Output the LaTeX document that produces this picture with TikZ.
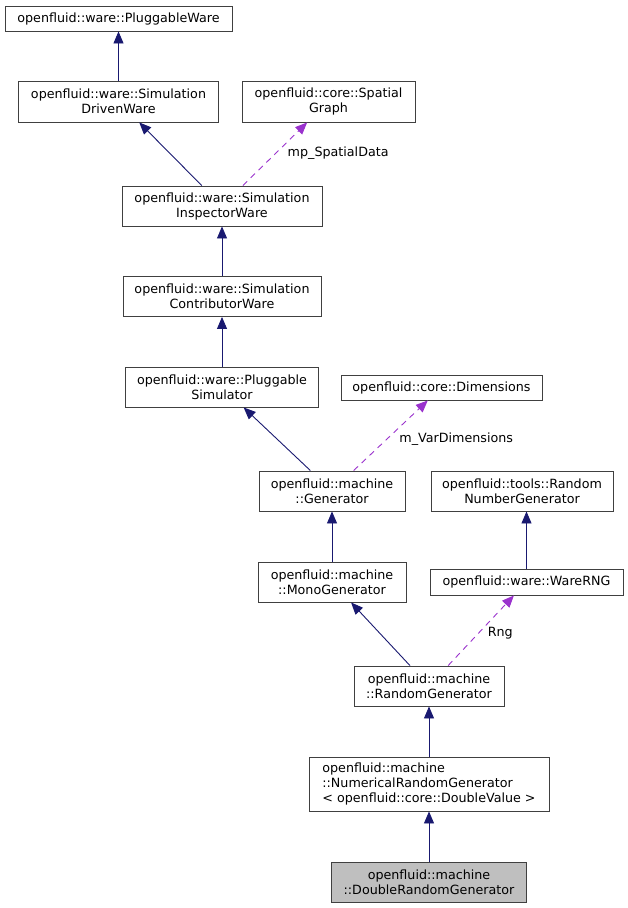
\documentclass[tikz,border=0pt]{standalone}
\usepackage{fontspec}
\setmainfont{DejaVu Sans}
\usetikzlibrary{positioning}
\usetikzlibrary{arrows.meta}
\definecolor{edgenavy}{HTML}{191970}
\definecolor{edgeorchid}{HTML}{9A32CD}
\definecolor{boxline}{HTML}{404040}
\definecolor{boxgray}{HTML}{BFBFBF}
\tikzset{
    classnode/.style = {rectangle, draw=boxline, line width=0.9pt, fill=white, inner sep=0pt, align=center, font=\fontsize{12.7}{15}\selectfont},
    classnodeg/.style = {classnode, fill=boxgray},
    edgei/.style = {-{Triangle[length=12pt,width=10pt]}, line width=0.9pt, draw=edgenavy, fill=edgenavy},
    edgeu/.style = {-{Triangle[length=12pt,width=10pt]}, line width=0.9pt, draw=edgeorchid, fill=edgeorchid, dash pattern=on 6pt off 5pt},
    edgelbl/.style = {anchor=west, inner sep=0pt, text=black, font=\fontsize{12.7}{15}\selectfont}
}
\begin{document}
\begin{tikzpicture}[x=1pt,y=-1pt]
\useasboundingbox (0,0) rectangle (628,908);
%
\node[classnode, minimum width=227pt, minimum height=25pt] at (118.5,18.5) (pware) {openfluid::ware::PluggableWare};
\node[classnode, minimum width=200pt, minimum height=41pt] at (118.5,101.5) (driven) {openfluid::ware::Simulation\\DrivenWare};
\node[classnode, minimum width=173pt, minimum height=41pt] at (328.5,101.5) (spatial) {openfluid::core::Spatial\\Graph};
\node[classnode, minimum width=200pt, minimum height=40pt] at (222,206) (insp) {openfluid::ware::Simulation\\InspectorWare};
\node[classnode, minimum width=198pt, minimum height=40pt] at (222,296.5) (contrib) {openfluid::ware::Simulation\\ContributorWare};
\node[classnode, minimum width=193pt, minimum height=40pt] at (222,387) (psim) {openfluid::ware::Pluggable\\Simulator};
\node[classnode, minimum width=201pt, minimum height=25pt] at (441.5,387.5) (dims) {openfluid::core::Dimensions};
\node[classnode, minimum width=146pt, minimum height=40pt] at (332,491) (gen) {openfluid::machine\\::Generator};
\node[classnode, minimum width=182pt, minimum height=40pt] at (522,491) (rng) {openfluid::tools::Random\\NumberGenerator};
\node[classnode, minimum width=148pt, minimum height=40pt] at (332,582) (mono) {openfluid::machine\\::MonoGenerator};
\node[classnode, minimum width=193pt, minimum height=26pt] at (526.5,582) (warerng) {openfluid::ware::WareRNG};
\node[classnode, minimum width=150pt, minimum height=40pt] at (429,686) (rand) {openfluid::machine\\::RandomGenerator};
\node[classnode, minimum width=240pt, minimum height=54pt, align=left] at (429,784) (num) {openfluid::machine\\::NumericalRandomGenerator\\< openfluid::core::DoubleValue >};
\node[classnodeg, minimum width=195pt, minimum height=40pt] at (429,882) (dbl) {openfluid::machine\\::DoubleRandomGenerator};
%
\draw[edgei] (driven) edge node {} (pware);
\draw[edgei] (insp) edge node {} (driven);
\draw[edgeu] (insp) edge node[edgelbl, pos=0.52, right=11pt] {mp\_SpatialData} (spatial);
\draw[edgei] (contrib) edge node {} (insp);
\draw[edgei] (psim) edge node {} (contrib);
\draw[edgei] (gen) edge node {} (psim);
\draw[edgeu] (gen) edge node[edgelbl, pos=0.45, right=12pt] {m\_VarDimensions} (dims);
\draw[edgei] (mono) edge node {} (gen);
\draw[edgei] (warerng) edge node {} (rng.south -| warerng);
\draw[edgei] (rand) edge node {} (mono);
\draw[edgeu] (rand) edge node[edgelbl, pos=0.46, right=9pt] {Rng} (warerng);
\draw[edgei] (num) edge node {} (rand);
\draw[edgei] (dbl) edge node {} (num);
\end{tikzpicture}
\end{document}
